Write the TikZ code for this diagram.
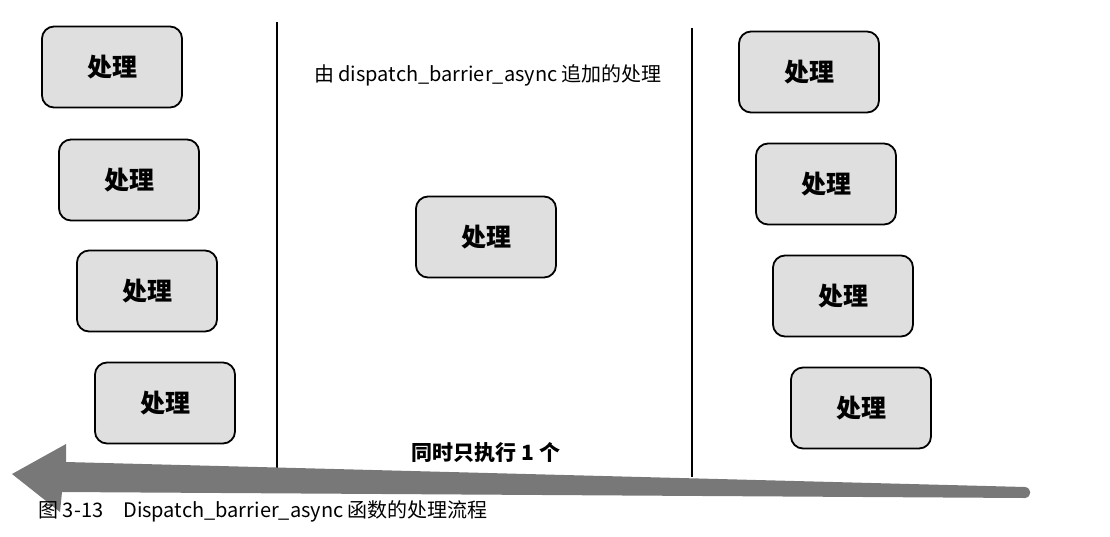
\documentclass[tikz,border=0pt]{standalone}
\usepackage{fontspec}
\setmainfont{Noto Sans CJK SC}
\definecolor{arrowgray}{HTML}{787878}
\tikzset{
  proc/.style={draw=black, line width=1.8pt, rounded corners=12pt, fill=gray!25,
    minimum width=140pt, minimum height=81pt, font=\fontsize{25}{25}\selectfont\bfseries},
  lane/.style={line width=1.6pt},
}
\begin{document}
\begin{tikzpicture}[x=1pt, y=-1pt]
    \useasboundingbox (0,0) rectangle (1110,536);

    % Before the barrier (left)
    \node[proc] (l1) at (112,67) {处理};
    \node[proc] (l2) at (129,180) {处理};
    \node[proc] (l3) at (147,291) {处理};
    \node[proc] (l4) at (165,403) {处理};

    % Barrier block (middle)
    \node[font=\fontsize{20}{20}\selectfont] (title) at (488,75) {由 dispatch\_barrier\_async 追加的处理};
    \node[proc] (m) at (486,237) {处理};
    \node[font=\fontsize{21}{21}\selectfont\bfseries] (note) at (486,453) {同时只执行 1 个};

    % After the barrier (right)
    \node[proc] (r1) at (809,72) {处理};
    \node[proc] (r2) at (826,184) {处理};
    \node[proc] (r3) at (843,296) {处理};
    \node[proc] (r4) at (861,408) {处理};

    % Separators
    \draw[lane] (277,22) -- (277,470);
    \draw[lane] (692,28) -- (692,477);

    % Time arrow
    \fill[arrowgray] (1025,487) -- (66,462) -- (66,444) -- (12,474) -- (60,512) -- (62,492) -- (1025,498)
        .. controls (1032,497) and (1032,488) .. (1025,487);

    \node[anchor=west, font=\fontsize{20}{20}\selectfont] (cap) at (35,511) {图 3-13\quad Dispatch\_barrier\_async 函数的处理流程};
\end{tikzpicture}
\end{document}
